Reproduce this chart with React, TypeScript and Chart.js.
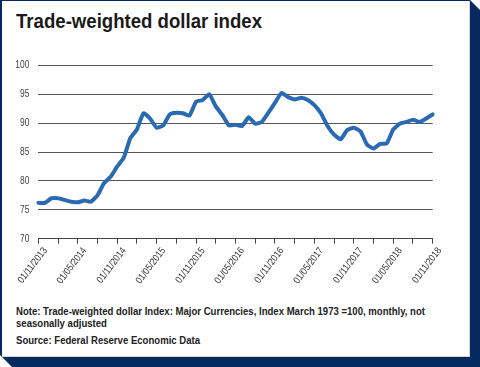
import React, { useEffect, useRef } from "react";
import { Chart, registerables } from "chart.js";
Chart.register(...registerables);

const months = [
  "01/11/2013", "01/12/2013",
  "01/01/2014", "01/02/2014", "01/03/2014", "01/04/2014", "01/05/2014", "01/06/2014",
  "01/07/2014", "01/08/2014", "01/09/2014", "01/10/2014", "01/11/2014", "01/12/2014",
  "01/01/2015", "01/02/2015", "01/03/2015", "01/04/2015", "01/05/2015", "01/06/2015",
  "01/07/2015", "01/08/2015", "01/09/2015", "01/10/2015", "01/11/2015", "01/12/2015",
  "01/01/2016", "01/02/2016", "01/03/2016", "01/04/2016", "01/05/2016", "01/06/2016",
  "01/07/2016", "01/08/2016", "01/09/2016", "01/10/2016", "01/11/2016", "01/12/2016",
  "01/01/2017", "01/02/2017", "01/03/2017", "01/04/2017", "01/05/2017", "01/06/2017",
  "01/07/2017", "01/08/2017", "01/09/2017", "01/10/2017", "01/11/2017", "01/12/2017",
  "01/01/2018", "01/02/2018", "01/03/2018", "01/04/2018", "01/05/2018", "01/06/2018",
  "01/07/2018", "01/08/2018", "01/09/2018", "01/10/2018", "01/11/2018",
];

const shownLabels = [
  "01/11/2013", "01/05/2014", "01/11/2014", "01/05/2015", "01/11/2015", "01/05/2016",
  "01/11/2016", "01/05/2017", "01/11/2017", "01/05/2018", "01/11/2018",
];

const indexValues = [
  76.2, 76.2, 77.0, 77.0, 76.7, 76.4, 76.3, 76.6, 76.4, 77.5,
  79.6, 80.7, 82.5, 84.0, 87.4, 88.9, 91.7, 90.8, 89.2, 89.6,
  91.5, 91.8, 91.7, 91.3, 93.7, 94.0, 95.0, 92.9, 91.4, 89.6,
  89.7, 89.5, 91.0, 89.9, 90.2, 91.8, 93.5, 95.2, 94.5, 94.1,
  94.4, 94.0, 93.1, 91.7, 89.5, 88.0, 87.2, 88.8, 89.2, 88.6,
  86.3, 85.6, 86.4, 86.5, 88.9, 89.9, 90.2, 90.6, 90.2, 90.8,
  91.5,
];

const yMin = 70;
const yMax = 100;
const yStep = 5;

const titleText = "Trade-weighted dollar index";
const noteLines = [
  "Note: Trade-weighted dollar Index: Major Currencies, Index March 1973 =100, monthly, not",
  "seasonally adjusted",
];
const sourceText = "Source: Federal Reserve Economic Data";

const NAVY = "#062a5e";
const SANS = "'Liberation Sans', Arial, sans-serif";

function measure(text: string, font: string): number {
  const c = document.createElement("canvas").getContext("2d");
  if (!c) return 1;
  c.font = font;
  return c.measureText(text).width || 1;
}

function FitText(props: {
  text: string;
  left: number;
  baseline: number;
  size: number;
  weight: string;
  color: string;
  scale: number;
}) {
  const { text, left, baseline, size, weight, color, scale } = props;
  return (
    <div
      style={{
        position: "absolute",
        left,
        top: baseline - 0.905 * size,
        fontFamily: SANS,
        fontWeight: weight as any,
        fontSize: size,
        lineHeight: "normal",
        color,
        whiteSpace: "nowrap",
        transform: `scaleX(${scale})`,
        transformOrigin: "0 0",
      }}
    >
      {text}
    </div>
  );
}

const condensedTicks = {
  id: "condensedTicks",
  afterDraw(chart: any) {
    const ctx = chart.ctx;
    const xs = chart.scales.x;
    const ys = chart.scales.y;
    ctx.save();
    // y labels
    ctx.fillStyle = "#444";
    ctx.font = "10.5px " + SANS;
    ctx.textAlign = "right";
    ctx.textBaseline = "middle";
    for (const t of ys.ticks) {
      const py = ys.getPixelForValue(t.value);
      ctx.save();
      ctx.translate(ys.right - 9, py);
      ctx.scale(0.8, 1);
      ctx.fillText(String(t.value), 0, 0);
      ctx.restore();
    }
    // x labels
    ctx.fillStyle = "#333";
    ctx.font = "10px " + SANS;
    ctx.textAlign = "right";
    ctx.textBaseline = "middle";
    const ang = (53 * Math.PI) / 180;
    months.forEach((m, i) => {
      if (!shownLabels.includes(m)) return;
      const px = xs.getPixelForValue(i);
      ctx.save();
      ctx.translate(px + 7, xs.top + 10);
      ctx.rotate(-ang);
      ctx.scale(0.85, 1);
      ctx.fillText(m, 0, 0);
      ctx.restore();
    });
    ctx.restore();
  },
};

export default function App() {
  const ref = useRef<HTMLCanvasElement | null>(null);

  useEffect(() => {
    document.body.style.margin = "0";
    if (!ref.current) return;
    const chart = new Chart(ref.current, {
      type: "line",
      data: {
        labels: months,
        datasets: [
          {
            data: indexValues,
            borderColor: "#2a6ab2",
            borderWidth: 4,
            pointRadius: 0,
            tension: 0.15,
            borderJoinStyle: "round",
            borderCapStyle: "round",
            fill: false,
          },
        ],
      },
      options: {
        animation: false,
        responsive: false,
        maintainAspectRatio: false,
        layout: { padding: { top: 15.3, left: 0, right: 37.3, bottom: 0 } },
        plugins: { legend: { display: false }, tooltip: { enabled: false }, title: { display: false } },
        scales: {
          x: {
            type: "category",
            offset: false,
            afterFit: (s: any) => { s.height = 61.3; },
            grid: {
              drawOnChartArea: false,
              drawTicks: true,
              tickLength: 5,
              color: "#444",
              lineWidth: 1,
            },
            border: { display: true, color: "#444", width: 1 },
            ticks: {
              autoSkip: false,
              maxRotation: 0,
              minRotation: 0,
              color: "rgba(0,0,0,0)",
              font: { size: 1 },
              callback: (_v: any, i: number) => (i % 3 === 0 ? "" : null),
            },
          },
          y: {
            min: yMin,
            max: yMax,
            afterFit: (s: any) => { s.width = 38.3; },
            grid: { color: "#555", lineWidth: 1, drawTicks: false },
            border: { display: false },
            ticks: {
              stepSize: yStep,
              color: "rgba(0,0,0,0)",
              font: { size: 10 },
            },
          },
        },
      },
      plugins: [condensedTicks],
    });
    return () => chart.destroy();
  }, []);

  const titleFont = `bold 21px ${SANS}`;
  const titleScale = 246 / measure(titleText, titleFont);
  const noteFont = `bold 10.7px ${SANS}`;
  const noteScale = 409 / measure(noteLines[0], noteFont);

  return (
    <div style={{ position: "relative", width: 480, height: 367, overflow: "hidden" }}>
      <div
        style={{
          position: "absolute",
          inset: 0,
          background: NAVY,
          clipPath: "polygon(0 0, 470px 0, 480px 10px, 480px 367px, 12px 367px, 0 355px)",
        }}
      />
      <div
        style={{
          position: "absolute",
          left: 2,
          top: 1,
          width: 467.5,
          height: 355.5,
          background: "#fff",
          boxShadow: "inset -1px -1px 0 #d8d8d8",
        }}
      />
      <FitText text={titleText} left={16} baseline={27.7} size={21} weight="bold" color="#1a1a1a" scale={titleScale} />
      <canvas
        ref={ref}
        width={470}
        height={250}
        style={{ position: "absolute", left: 0, top: 50, width: 470, height: 250 }}
      />
      <FitText text={noteLines[0]} left={16} baseline={315} size={10.7} weight="bold" color="#222" scale={noteScale} />
      <FitText text={noteLines[1]} left={16} baseline={326.5} size={10.7} weight="bold" color="#222" scale={noteScale} />
      <FitText text={sourceText} left={16} baseline={344} size={10.7} weight="bold" color="#222" scale={noteScale} />
    </div>
  );
}
